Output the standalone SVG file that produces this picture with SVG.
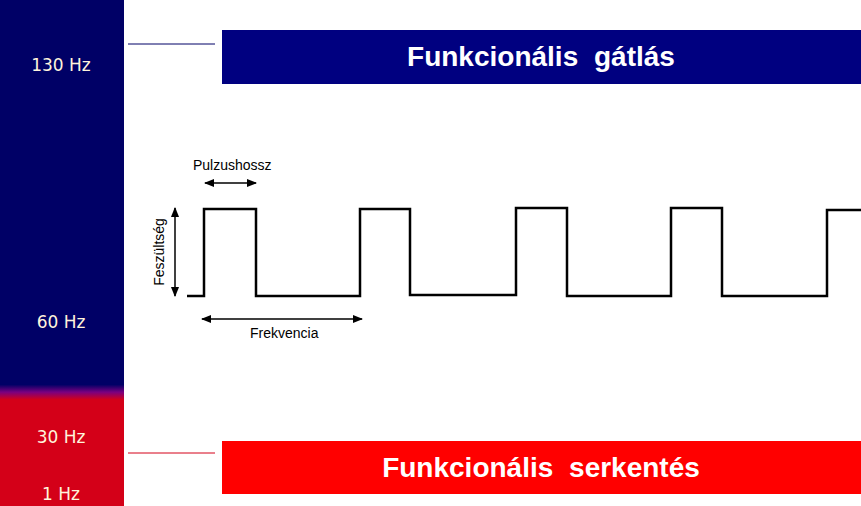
<svg xmlns="http://www.w3.org/2000/svg" width="861" height="506" viewBox="0 0 861 506">
<defs>
<linearGradient id="side" x1="0" y1="0" x2="0" y2="1">
<stop offset="0" stop-color="#000066"/>
<stop offset="0.76" stop-color="#000066"/>
<stop offset="0.775" stop-color="#7a0080"/>
<stop offset="0.79" stop-color="#d40018"/>
<stop offset="1" stop-color="#d40018"/>
</linearGradient>
<marker id="ah" viewBox="0 0 10 10" refX="9" refY="5" markerWidth="7" markerHeight="7" orient="auto-start-reverse"><path d="M0,1 L10,5 L0,9 Z" fill="#000"/></marker>
<style>
.hz{font-family:"DejaVu Sans",sans-serif;font-size:17px;fill:#fff4dc;text-anchor:middle}
.tt{font-family:"Liberation Sans",Arial,sans-serif;font-size:28px;font-weight:bold;fill:#fff;text-anchor:middle;word-spacing:8px}
.lb{font-family:"Liberation Sans",Arial,sans-serif;font-size:14px;fill:#000}
.ar{stroke:#000;stroke-width:1.5;fill:none;marker-start:url(#ah);marker-end:url(#ah)}
</style>
</defs>
<g id="sidebar">
<rect x="0" y="0" width="124" height="506" fill="url(#side)"/>
<text class="hz" x="61" y="71">130 Hz</text>
<text class="hz" x="61" y="328">60 Hz</text>
<text class="hz" x="61" y="443">30 Hz</text>
<text class="hz" x="61" y="500">1 Hz</text>
</g>
<g id="inhibition">
<line x1="128" y1="44" x2="215" y2="44" stroke="#000066" stroke-width="1"/>
<rect x="222" y="30" width="639" height="54" fill="#000080"/>
<text class="tt" x="541" y="66">Funkcionális gátlás</text>
</g>
<g id="stimulation">
<line x1="128" y1="453" x2="215" y2="453" stroke="#d40018" stroke-width="1"/>
<rect x="222" y="441" width="639" height="53" fill="#ff0000"/>
<text class="tt" x="541" y="477">Funkcionális serkentés</text>
</g>
<g id="waveform">
<polyline fill="none" stroke="#000" stroke-width="2.5" points="187,296 204,296 204,209 256,209 256,296 360,296 360,209 410,209 410,295 516,295 516,208 567,208 567,296 671,296 671,208 722,208 722,296 827,296 827,210 861,210"/>
<text class="lb" x="193" y="170">Pulzushossz</text>
<text class="lb" x="250" y="338">Frekvencia</text>
<text class="lb" transform="translate(164,252) rotate(-90)" text-anchor="middle">Feszültség</text>
</g>
<g id="connectors">
<line class="ar" x1="205" y1="183" x2="256" y2="183"/>
<line class="ar" x1="175" y1="208" x2="175" y2="296"/>
<line class="ar" x1="202" y1="319" x2="362" y2="319"/>
</g>
</svg>
